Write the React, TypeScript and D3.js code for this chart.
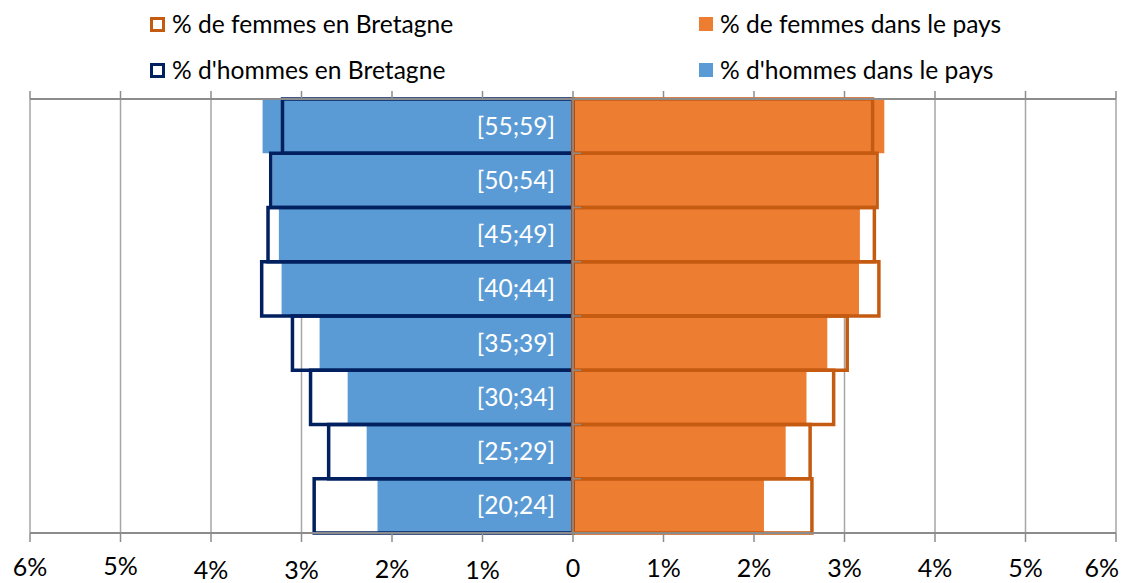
import { useEffect, useRef } from 'react';
import * as d3 from 'd3';

const categories = ['[55;59]', '[50;54]', '[45;49]', '[40;44]', '[35;39]', '[30;34]', '[25;29]', '[20;24]'];
const menCountry = [3.43, 3.32, 3.25, 3.22, 2.8, 2.49, 2.28, 2.16];
const menBretagne = [3.21, 3.34, 3.37, 3.44, 3.1, 2.9, 2.7, 2.86];
const womenCountry = [3.44, 3.34, 3.17, 3.16, 2.81, 2.58, 2.35, 2.11];
const womenBretagne = [3.31, 3.36, 3.33, 3.38, 3.03, 2.88, 2.62, 2.64];
const tickValues = [-6, -5, -4, -3, -2, -1, 0, 1, 2, 3, 4, 5, 6];

// Excel staggered some left tick labels vertically
const tickLabelShift: Record<number, number> = { '-6': -1, '-5': -2, '-4': 2, '-3': 2, '-2': 1, '-1': 2, '0': 0 };

const legendItems = [
  { label: '% de femmes en Bretagne', color: '#C55A11', hollow: true, col: 0, row: 0 },
  { label: '% de femmes dans le pays', color: '#ED7D31', hollow: false, col: 1, row: 0 },
  { label: "% d'hommes en Bretagne", color: '#002060', hollow: true, col: 0, row: 1 },
  { label: "% d'hommes dans le pays", color: '#5B9BD5', hollow: false, col: 1, row: 1 },
];

const W = 1121;
const H = 583;
const FONT = 'Lato, "Open Sans", sans-serif';

export default function App() {
  const svgRef = useRef<SVGSVGElement>(null);

  useEffect(() => {
    if (!svgRef.current) return;
    const svg = d3.select(svgRef.current);
    svg.selectAll('*').remove();

    const left = 30, right = 1116, top = 99, bottom = 533;

    const x = d3.scaleLinear().domain([-6, 6]).range([left, right]);
    const y = d3.scaleBand().domain(categories).range([top, bottom]).padding(0);

    // gridlines
    svg.append('g')
      .selectAll('line')
      .data(tickValues)
      .join('line')
      .attr('x1', d => x(d)).attr('x2', d => x(d))
      .attr('y1', top).attr('y2', bottom)
      .attr('stroke', '#a6a6a6')
      .attr('stroke-width', 1.5);

    const rows = categories.map((c, i) => ({
      cat: c,
      menC: menCountry[i],
      menB: menBretagne[i],
      womC: womenCountry[i],
      womB: womenBretagne[i],
    }));

    // country bars
    svg.append('g').selectAll('rect').data(rows).join('rect')
      .attr('x', d => x(-d.menC))
      .attr('y', d => y(d.cat)!)
      .attr('width', d => x(0) - x(-d.menC))
      .attr('height', y.bandwidth())
      .attr('fill', '#5B9BD5');

    svg.append('g').selectAll('rect').data(rows).join('rect')
      .attr('x', x(0))
      .attr('y', d => y(d.cat)!)
      .attr('width', d => x(d.womC) - x(0))
      .attr('height', y.bandwidth())
      .attr('fill', '#ED7D31');

    // Bretagne outlines
    svg.append('g').selectAll('rect').data(rows).join('rect')
      .attr('x', d => x(-d.menB))
      .attr('y', d => y(d.cat)!)
      .attr('width', d => x(0) - x(-d.menB))
      .attr('height', y.bandwidth())
      .attr('fill', 'none')
      .attr('stroke', '#002060')
      .attr('stroke-width', 3.5);

    svg.append('g').selectAll('rect').data(rows).join('rect')
      .attr('x', x(0))
      .attr('y', d => y(d.cat)!)
      .attr('width', d => x(d.womB) - x(0))
      .attr('height', y.bandwidth())
      .attr('fill', 'none')
      .attr('stroke', '#C55A11')
      .attr('stroke-width', 3.5);

    // top and bottom axes
    const axisColor = '#8c8c8c';
    [top, bottom].forEach((yy, k) => {
      const g = svg.append('g');
      g.append('line')
        .attr('x1', left).attr('x2', right)
        .attr('y1', yy).attr('y2', yy)
        .attr('stroke', axisColor).attr('stroke-width', 2);
      g.selectAll('line.tick').data(tickValues).join('line')
        .attr('class', 'tick')
        .attr('x1', d => x(d)).attr('x2', d => x(d))
        .attr('y1', yy).attr('y2', k === 0 ? yy - 8 : yy + 9)
        .attr('stroke', axisColor).attr('stroke-width', 1.5);
    });

    // centre axis with small ticks between bands
    svg.append('line')
      .attr('x1', x(0)).attr('x2', x(0))
      .attr('y1', top).attr('y2', bottom)
      .attr('stroke', axisColor).attr('stroke-width', 1.5);
    svg.append('g').selectAll('line').data(categories.slice(1)).join('line')
      .attr('x1', x(0)).attr('x2', x(0) + 8)
      .attr('y1', d => y(d)!).attr('y2', d => y(d)!)
      .attr('stroke', axisColor).attr('stroke-width', 1.5);

    // category labels
    svg.append('g').selectAll('text').data(categories).join('text')
      .attr('x', x(0) - 18)
      .attr('y', d => y(d)! + y.bandwidth() / 2)
      .attr('dy', '0.35em')
      .attr('text-anchor', 'end')
      .style('font-family', FONT)
      .style('font-size', '24.5px')
      .style('fill', '#ffffff')
      .text(d => d);

    // tick labels
    const labels = svg.append('g').selectAll('text').data(tickValues).join('text')
      .attr('x', d => x(d))
      .attr('y', d => 577 + (tickLabelShift[d] ?? 0))
      .attr('text-anchor', 'middle')
      .style('font-family', FONT)
      .style('font-size', '25px')
      .style('fill', '#000')
      .text(d => (d === 0 ? '0' : `${Math.abs(d)}%`));
    labels.each(function () {
      const el = this as SVGTextElement;
      const w = el.getComputedTextLength();
      const cx = +el.getAttribute('x')!;
      const clamped = Math.max(8 + w / 2, Math.min(W - 2 - w / 2, cx));
      el.setAttribute('x', String(clamped));
    });

    // legend
    const colX = [150, 699];
    const rowY = [17, 63];
    const lg = svg.append('g');
    legendItems.forEach(item => {
      const lx = colX[item.col];
      const ly = rowY[item.row];
      if (item.hollow) {
        lg.append('rect')
          .attr('x', lx + 1.5).attr('y', ly + 1.5)
          .attr('width', 12).attr('height', 12)
          .attr('fill', '#fff')
          .attr('stroke', item.color)
          .attr('stroke-width', 3);
      } else {
        lg.append('rect')
          .attr('x', lx).attr('y', ly)
          .attr('width', 14).attr('height', 14)
          .attr('fill', item.color);
      }
      lg.append('text')
        .attr('x', lx + (item.hollow ? 22 : 21))
        .attr('y', ly + 7.5)
        .attr('dy', '0.35em')
        .style('font-family', FONT)
        .style('font-size', '24.6px')
        .style('fill', '#000')
        .text(item.label);
    });
  }, []);

  return (
    <div style={{ position: 'absolute', left: 0, top: 0, width: W, height: H, background: '#fff' }}>
      <svg ref={svgRef} width={W} height={H}></svg>
    </div>
  );
}
